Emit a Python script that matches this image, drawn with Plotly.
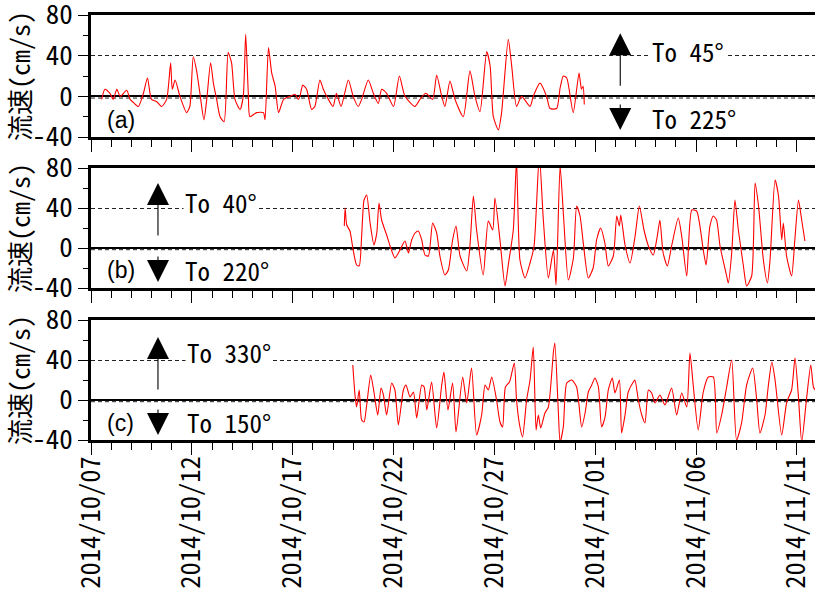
import pandas as pd
import plotly.graph_objects as go

BASE = pd.Timestamp("2014-10-07")

# ---- Panel (a): days since 2014/10/07 and speed (cm/s) ----
days_a = [0.53, 0.69, 0.94, 1.1, 1.28, 1.45, 1.77, 1.94, 2.1, 2.35, 2.6, 2.8, 3.0, 3.25, 3.5, 3.75,
          3.95, 4.03, 4.17, 4.41, 4.74, 4.9, 5.07, 5.23, 5.4, 5.6, 5.74, 5.93, 6.07, 6.23, 6.4, 6.6,
          6.8, 6.97, 7.14, 7.39, 7.55, 7.67, 7.8, 7.88, 8.21, 8.55, 8.63, 8.8, 8.96, 9.13, 9.3, 9.55,
          9.87, 10.12, 10.28, 10.36, 10.5, 10.69, 10.94, 11.1, 11.35, 11.52, 11.69, 12.0, 12.17, 12.4,
          12.76, 13.0, 13.25, 13.42, 13.75, 14.0, 14.25, 14.41, 14.66, 15.0, 15.29, 15.57, 16.06, 16.31,
          16.6, 16.94, 17.14, 17.39, 17.55, 17.8, 18.05, 18.46, 18.79, 19.04, 19.29, 19.62, 19.79, 19.95,
          20.2, 20.36, 20.69, 20.86, 21.1, 21.35, 21.77, 21.93, 22.26, 22.59, 22.76, 23.09, 23.26, 23.42,
          23.59, 23.91, 24.2, 24.32, 24.4, 24.46]
speed_a = [-3, 7, 3, -3, 7, 0, 6, -3, -6, -10, 3, 18, -3, -5, -10, -3,
           33, 7, 16, 0, -16, -10, 39, 26, 3, -23, -3, 33, 13, -3, -20, -25,
           43, 33, -3, -13, 0, 61, 3, -20, -16, -16, -23, 48, 23, 10, -16, -3,
           0, 2, -3, 0, 11, 7, -13, -10, 16, 7, 0, -10, 3, -10,
           16, 0, -10, -3, 16, 3, -7, 7, 3, -10, 20, 0, -10, -3,
           3, -3, 21, 0, -10, 15, -3, -20, 25, 0, -15, 44, 30, -20,
           -33, -16, 56, 30, -10, 0, -10, 0, 13, 0, -12, -12, 8, 20,
           18, -16, 23, 7, 10, -8]

# ---- Panel (b) ----
days_b = [12.56, 12.6, 12.68, 12.84, 13.0, 13.17, 13.3, 13.42, 13.54, 13.67, 13.84, 14.03, 14.17, 14.28,
          14.41, 14.66, 14.83, 15.07, 15.32, 15.57, 15.74, 15.9, 16.07, 16.23, 16.4, 16.56, 16.73, 16.94,
          17.14, 17.3, 17.55, 17.72, 17.93, 18.1, 18.3, 18.63, 18.79, 18.96, 19.12, 19.45, 19.7, 19.92,
          20.03, 20.28, 20.53, 20.69, 20.94, 21.1, 21.27, 21.52, 21.77, 21.97, 22.23, 22.43, 22.68, 22.93,
          23.06, 23.26, 23.43, 23.67, 23.92, 24.08, 24.25, 24.41, 24.66, 24.9, 25.07, 25.27, 25.48, 25.65,
          25.9, 26.07, 26.2, 26.27, 26.48, 26.73, 26.98, 27.19, 27.42, 27.64, 27.88, 28.08, 28.21, 28.37,
          28.58, 28.79, 29.12, 29.29, 29.54, 29.79, 30.03, 30.36, 30.5, 30.69, 30.86, 31.02, 31.19, 31.52,
          31.6, 31.77, 31.93, 32.1, 32.35, 32.51, 32.76, 32.93, 33.1, 33.34, 33.54, 33.67, 33.92, 34.09,
          34.25, 34.33, 34.49, 34.74, 34.9, 35.08, 35.24, 35.4]
speed_b = [22, 40, 23, 17, -2, -17, -18, 12, 48, 53, 25, 3, 15, 45,
           28, 13, 2, -10, -2, 7, -5, 8, 15, 17, 8, -7, -8, 25,
           15, -8, -27, -22, 8, 22, -8, -23, 2, 52, 18, -27, 27, 18,
           50, 8, -38, -17, 18, 88, -12, -30, -15, 2, 93, 28, -30, -2,
           -37, 82, 32, -32, -10, 42, 32, 5, -30, -20, 8, 20, 5, -18,
           -8, 32, 22, 33, 3, -15, 12, 42, 18, 2, -7, 12, 28, -5,
           -18, 2, 30, 12, -28, 38, 37, -2, -17, 22, 32, 28, 2, -28,
           -35, -5, 48, 18, -18, -38, -28, 65, 42, -12, -35, -12, 68, 52,
           8, 25, -8, -28, 8, 48, 28, 7]

# ---- Panel (c) ----
days_c = [12.98, 13.1, 13.17, 13.3, 13.42, 13.54, 13.67, 13.87, 14.03, 14.22, 14.38, 14.5, 14.66, 14.91,
          15.07, 15.24, 15.49, 15.62, 15.82, 15.99, 16.15, 16.4, 16.52, 16.65, 16.89, 17.14, 17.39, 17.5,
          17.7, 17.93, 18.1, 18.43, 18.63, 18.87, 19.12, 19.37, 19.54, 19.7, 19.87, 20.11, 20.28, 20.41,
          20.55, 20.75, 20.99, 21.1, 21.27, 21.4, 21.6, 21.77, 21.93, 22.07, 22.18, 22.3, 22.51, 22.68,
          22.93, 23.0, 23.17, 23.26, 23.42, 23.59, 23.84, 24.08, 24.33, 24.5, 24.66, 24.83, 24.99, 25.16,
          25.32, 25.49, 25.65, 25.85, 25.98, 26.2, 26.31, 26.48, 26.64, 26.89, 26.97, 27.14, 27.31, 27.47,
          27.64, 27.8, 27.97, 28.21, 28.46, 28.79, 29.04, 29.29, 29.54, 29.7, 29.87, 30.11, 30.36, 30.61,
          30.86, 31.03, 31.27, 31.52, 31.77, 32.01, 32.26, 32.51, 32.81, 33.01, 33.17, 33.42, 33.59, 33.76,
          33.92, 34.25, 34.5, 34.74, 34.91, 35.08, 35.24, 35.49, 35.69, 35.82, 35.9]
speed_c = [35, 3, -7, 10, -20, -22, -5, 25, 8, -15, 12, 5, -15, 17,
           10, -25, 10, 15, 3, 8, -18, 15, 13, -10, 18, -28, 15, 28,
           -10, 17, -32, 23, -3, 32, -35, -15, 15, 10, 23, 0, -22, -27,
           13, 18, 37, 0, -27, -37, 0, 20, 53, -30, -15, -28, -13, -7,
           48, 57, -10, -42, -27, 17, 20, 13, -27, -13, 8, 15, 22, 13,
           -27, -17, 10, 22, 7, 20, -33, -15, 8, 18, 20, 0, -15, -23,
           10, 7, -3, 5, -5, 12, -15, 7, -7, 47, 13, -30, 8, 23,
           23, -33, -15, 13, 40, -40, -23, 15, 32, 0, -33, -15, 15, 38,
           20, -35, -2, 10, 42, 3, -42, 3, 35, 13, 10]

# ---- axis labels / annotation text ----
y_title = "流速(cm/s)"
y_ticks = [-40, 0, 40, 80]
y_ticktext = ["-40", "0", "40", "80"]
panel_tags = ["(a)", "(b)", "(c)"]
up_labels = ["To 45°", "To 40°", "To 330°"]
down_labels = ["To 225°", "To 220°", "To 150°"]


def to_time(days):
    return BASE + pd.to_timedelta(days, unit="D")


MONO = "Noto Sans Mono CJK JP, Noto Sans CJK JP, Liberation Sans, sans-serif"
YTICK_FONT = dict(family=MONO, size=27, color="black")
XTICK_FONT = dict(family=MONO, size=26.5, color="black")
TXT_FONT = dict(family=MONO, size=25, color="black")
TAG_FONT = dict(family="Liberation Sans, Arial, sans-serif", size=23, color="black")

fig = go.Figure()
series = [(days_a, speed_a), (days_b, speed_b), (days_c, speed_c)]
for i, (d, v) in enumerate(series):
    fig.add_trace(go.Scatter(
        x=to_time(d), y=v, mode="lines",
        line=dict(color="#ff0000", width=1.1, shape="spline", smoothing=0.6),
        xaxis="x" if i == 0 else f"x{i+1}",
        yaxis="y" if i == 0 else f"y{i+1}",
        showlegend=False, hoverinfo="skip"))

H = 595
# pixel rows (top, bottom) of each panel
rows_px = [(15, 137), (168, 288), (320, 440)]
x_range = [BASE, BASE + pd.Timedelta(days=35.9)]

layout = dict(
    width=815, height=595,
    margin=dict(l=91, r=0, t=0, b=0),
    paper_bgcolor="white", plot_bgcolor="white",
    showlegend=False,
)

for i, (top, bot) in enumerate(rows_px):
    sfx = "" if i == 0 else str(i + 1)
    dom = [1 - bot / H, 1 - top / H]
    xa = dict(
        domain=[0, 1], range=x_range, type="date",
        anchor="y" + sfx,
        showline=True, linecolor="black", linewidth=2.5, mirror=True,
        ticks="outside", ticklen=12, tickwidth=1.3, tickcolor="black",
        tick0=BASE, dtick=5 * 86400000,
        minor=dict(dtick=86400000, ticks="outside", ticklen=7, tickwidth=1.1, tickcolor="black"),
        showgrid=False, zeroline=False,
        showticklabels=(i == 2), tickformat="%Y/%m/%d", tickangle=-90,
        tickfont=XTICK_FONT, automargin=False, ticklabeloverflow="allow",
        ticklabelstandoff=-9,
    )
    if i > 0:
        xa["matches"] = "x"
    ya = dict(
        domain=dom, range=[-40, 80], anchor="x" + sfx,
        tickmode="array", tickvals=y_ticks, ticktext=y_ticktext,
        ticks="outside", ticklen=10, tickwidth=1.3, tickcolor="black",
        minor=dict(tickmode="linear", tick0=-40, dtick=20, ticks="outside", ticklen=5,
                   tickwidth=1.1, tickcolor="black", showgrid=False),
        showline=True, linecolor="black", linewidth=2.5,
        showgrid=True, gridcolor="#222222", gridwidth=1, griddash="4px,3px",
        zeroline=True, zerolinecolor="black", zerolinewidth=1.5,
        tickfont=YTICK_FONT, automargin=False, ticklabeloverflow="allow",
        title=dict(text=y_title, standoff=10,
                   font=dict(family=MONO, size=26, color="black")),
    )
    layout["xaxis" + sfx] = xa
    layout["yaxis" + sfx] = ya

fig.update_layout(**layout)

# dashed companion line just under each zero line (as in the original)
for i in range(3):
    sfx = "" if i == 0 else str(i + 1)
    fig.add_shape(type="line", xref=f"x{sfx} domain", yref=f"y{sfx}", x0=0, x1=1, y0=-1.7, y1=-1.7,
                  line=dict(color="#222222", width=1, dash="4px,3px"), layer="below")

# annotations: positions in axis-domain fractions (x) and data units (y)
arrow_x = [0.731, 0.0925, 0.0925]
text_x = [0.772, 0.127, 0.13]
up_text_y = [45, 46, 48]
down_text_y = [-21, -22, -22]
up_tip_y = [62, 65, 63]
down_tip_y = [-33, -34, -35]
tag_y = [-23, -22, -23]

for i in range(3):
    sfx = "" if i == 0 else str(i + 1)
    xr = f"x{sfx} domain"
    yr = f"y{sfx}"
    fig.add_annotation(xref=xr, yref=yr, x=0.019, y=tag_y[i], text=panel_tags[i],
                       showarrow=False, xanchor="left", yanchor="middle", font=TAG_FONT)
    fig.add_annotation(xref=xr, yref=yr, x=text_x[i], y=up_text_y[i], text=up_labels[i],
                       showarrow=False, xanchor="left", yanchor="middle", font=TXT_FONT,
                       bgcolor="white", borderpad=1)
    fig.add_annotation(xref=xr, yref=yr, x=text_x[i], y=down_text_y[i], text=down_labels[i],
                       showarrow=False, xanchor="left", yanchor="middle", font=TXT_FONT)
    fig.add_annotation(xref=xr, yref=yr, x=arrow_x[i], y=up_tip_y[i], text="",
                       showarrow=True, arrowhead=2, arrowsize=4, arrowwidth=1.1,
                       arrowcolor="black", ax=0, ay=54)
    fig.add_annotation(xref=xr, yref=yr, x=arrow_x[i], y=down_tip_y[i], text="",
                       showarrow=True, arrowhead=2, arrowsize=4, arrowwidth=1.1,
                       arrowcolor="black", ax=0, ay=-27)

fig.write_html("out.html", config={"displayModeBar": False},
               post_script="document.body.style.margin='0';")
